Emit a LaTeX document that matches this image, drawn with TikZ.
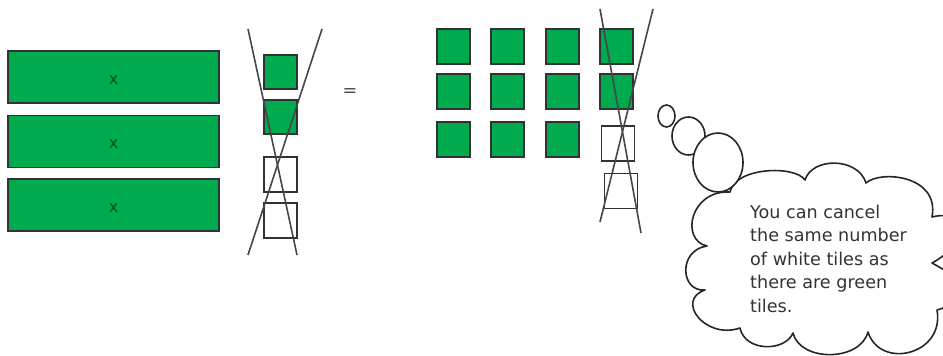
\documentclass[tikz,border=0pt]{standalone}
\usepackage{fontspec}
\setmainfont{DejaVu Sans}
\definecolor{tilegreen}{RGB}{0,171,79}
\definecolor{xgreen}{RGB}{0,75,32}
\definecolor{edge}{RGB}{50,50,50}
\definecolor{crossline}{RGB}{70,70,70}
\tikzset{
  bigtile/.style={draw=edge, line width=1.6pt, fill=tilegreen, minimum width=211pt, minimum height=52pt, inner sep=0pt,
    font={\fontsize{16}{16}\selectfont}, text=xgreen, text height=14.5pt, text depth=0pt},
  gtile/.style={draw=edge, line width=1.6pt, fill=tilegreen, minimum width=33pt, minimum height=34.5pt, inner sep=0pt},
  wtile/.style={draw=edge, line width=1.6pt, fill=white, minimum width=33pt, minimum height=35pt, inner sep=0pt},
  crossln/.style={draw=crossline, line width=1.6pt},
  cloudln/.style={draw=black!85, line width=1.6pt},
}
\begin{document}
\begin{tikzpicture}[x=1pt,y=-1pt]
\useasboundingbox (0,0) rectangle (943,356);
% left green bars
\node[bigtile] (b1) at (113.5,77) {x};
\node[bigtile] (b2) at (113.5,141.5) {x};
\node[bigtile] (b3) at (113.5,205) {x};
% left column of small tiles
\node[gtile] (s1) at (280.5,72) {};
\node[gtile] (s2) at (280.5,117) {};
\node[wtile] (s3) at (280.5,174.5) {};
\node[wtile] (s4) at (280.5,220.5) {};
\coordinate (la1) at (248,29);
\coordinate (la2) at (297,255);
\coordinate (lb1) at (322,29);
\coordinate (lb2) at (248,255);
\draw[crossln] (la1) -- (la2);
\draw[crossln] (lb1) -- (lb2);
% equals
\node[text=black!70, font={\fontsize{17.5}{17.5}\selectfont}, inner sep=0pt] (eq) at (350,92.5) {=};
% grid
\foreach \c/\cx in {1/453.5,2/507.5,3/562.5} {
  \foreach \r/\cy in {1/46.5,2/91.5,3/139.5} {
    \node[gtile] (g\c\r) at (\cx,\cy) {};
  }
}
\node[gtile] (g41) at (616.5,46.5) {};
\node[gtile] (g42) at (616.5,91.5) {};
\node[wtile] (w1) at (618,143.5) {};
\node[wtile] (w2) at (621,191) {};
\coordinate (ra1) at (600,9);
\coordinate (ra2) at (641,233);
\coordinate (rb1) at (653,9);
\coordinate (rb2) at (600,222);
\draw[crossln] (ra1) -- (ra2);
\draw[crossln] (rb1) -- (rb2);
% cloud
\coordinate (p1) at (730,192);
\coordinate (p2) at (805,180);
\coordinate (p3) at (866,183);
\coordinate (p4) at (932,217);
\coordinate (p5) at (932,263);
\coordinate (p6) at (937,310);
\coordinate (p7) at (868,332);
\coordinate (p8) at (793,333);
\coordinate (p9) at (740,328);
\coordinate (p10) at (705,290);
\coordinate (p11) at (707,246);
\draw[cloudln, fill=white, line join=round] (p1)
  .. controls (735,167) and (795,165) .. (p2)
  .. controls (812,157) and (858,157) .. (p3)
  .. controls (880,170) and (940,175) .. (p4)
  .. controls (968,208) and (968,244) .. (p5)
  .. controls (968,282) and (972,300) .. (p6)
  .. controls (945,355) and (880,370) .. (p7)
  .. controls (860,362) and (800,362) .. (p8)
  .. controls (785,352) and (745,352) .. (p9)
  .. controls (705,340) and (675,300) .. (p10)
  .. controls (680,292) and (678,250) .. (p11)
  .. controls (680,240) and (690,190) .. (p1) -- cycle;
\draw[cloudln, fill=white] (666.5,116) ellipse [x radius=8.5, y radius=11];
\draw[cloudln, fill=white] (688.5,136) ellipse [x radius=16.5, y radius=19];
\draw[cloudln, fill=white] (718,162.5) ellipse [x radius=25, y radius=29.5];
\node[anchor=north west, inner sep=0pt, align=left, text=black!80,
  font={\fontsize{17.6}{23.6}\selectfont}] (msg) at (750,204.5)
  {You can cancel\\the same number\\of white tiles as\\there are green\\tiles.};
\end{tikzpicture}
\end{document}
